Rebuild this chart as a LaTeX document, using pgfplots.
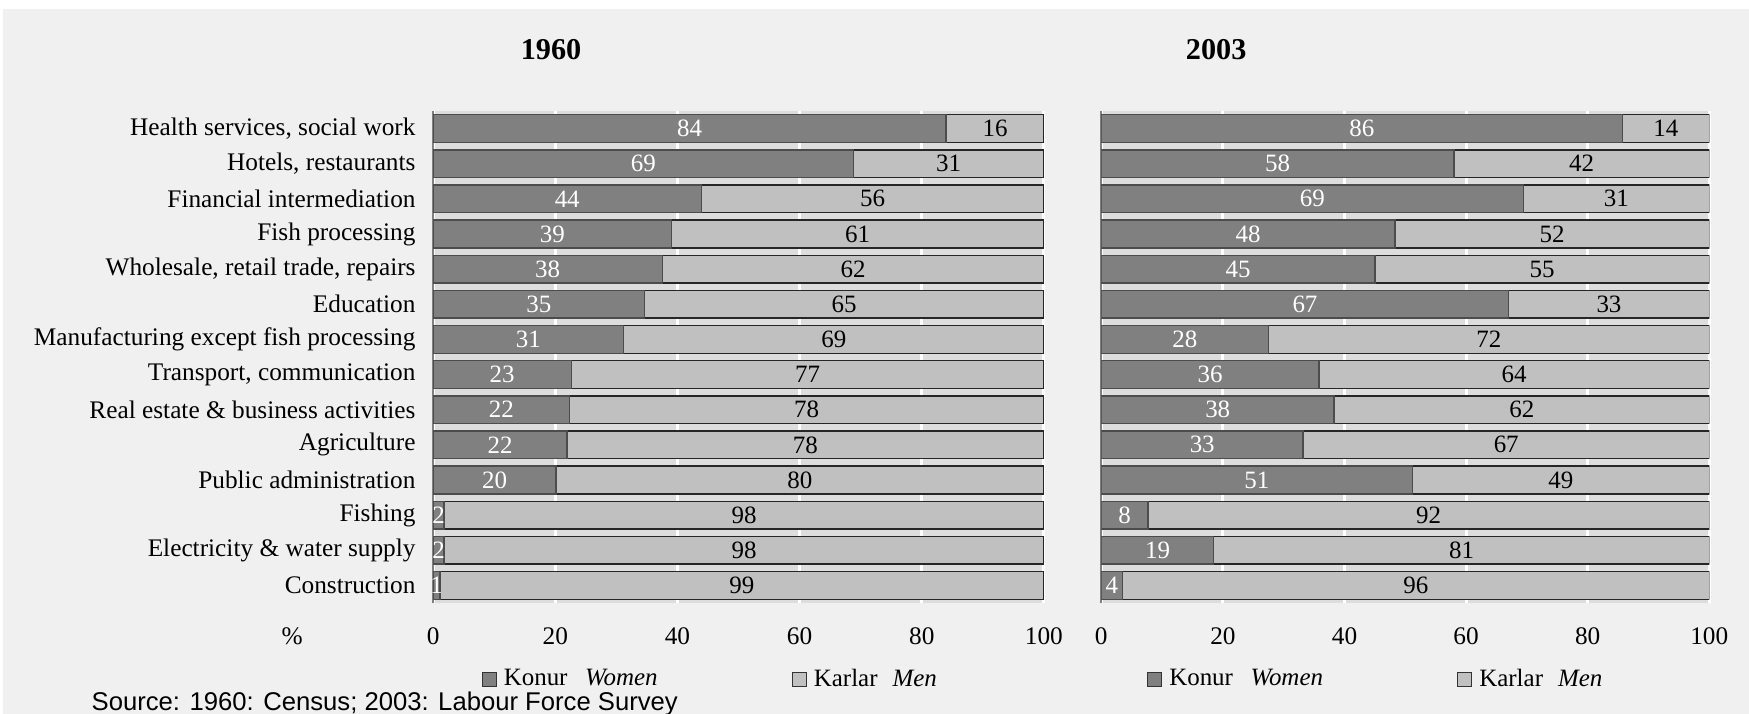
\documentclass[border=0pt]{standalone}
\usepackage{pgfplots}
\usepackage{pgfplotstable}
\pgfplotsset{compat=1.18}
\usepackage{fontspec}
\setmainfont{Liberation Serif}
\newfontfamily\srcfont{Liberation Sans}
\definecolor{bg}{HTML}{F0F0F0}
\definecolor{plotbg}{HTML}{DDDDDD}
\definecolor{dk}{HTML}{808080}
\definecolor{lt}{HTML}{C0C0C0}

% y: row (13 = top); w: women bar; full: 100; wl/ml: printed labels; wc/mc: label positions
\pgfplotstableread{
y w full wl ml wc mc
13 84.0 100 84 16 42.0 92.0
12 68.8 100 69 31 34.4 84.4
11 43.9 100 44 56 21.95 71.95
10 39.0 100 39 61 19.5 69.5
9 37.5 100 38 62 18.75 68.75
8 34.6 100 35 65 17.3 67.3
7 31.2 100 31 69 15.6 65.6
6 22.6 100 23 77 11.3 61.3
5 22.3 100 22 78 11.15 61.15
4 21.9 100 22 78 10.95 60.95
3 20.1 100 20 80 10.05 60.05
2 1.8 100 2 98 0.9 50.9
1 1.8 100 2 98 0.9 50.9
0 1.1 100 1 99 0.55 50.55
}\tabA

\pgfplotstableread{
y w full wl ml wc mc
13 85.7 100 86 14 42.85 92.85
12 58.0 100 58 42 29.0 79.0
11 69.4 100 69 31 34.7 84.7
10 48.3 100 48 52 24.15 74.15
9 45.0 100 45 55 22.5 72.5
8 67.0 100 67 33 33.5 83.5
7 27.5 100 28 72 13.75 63.75
6 35.8 100 36 64 17.9 67.9
5 38.3 100 38 62 19.15 69.15
4 33.2 100 33 67 16.6 66.6
3 51.2 100 51 49 25.6 75.6
2 7.7 100 8 92 3.85 53.85
1 18.5 100 19 81 9.25 59.25
0 3.5 100 4 96 1.75 51.75
}\tabB

\pgfplotsset{
  panel/.style={
    scale only axis,
    height=4.92cm,
    xmin=0, xmax=100,
    ymin=-0.5, ymax=13.5,
    xtick={0,20,40,60,80,100},
    xmajorgrids,
    grid style={white, line width=0.9pt},
    axis background/.style={fill=plotbg},
    axis x line*=bottom,
    axis y line*=left,
    x axis line style={draw=none},
    y axis line style={draw=gray, line width=0.5pt},
    major tick length=0pt,
    /pgf/number format/assume math mode=true,
    tick label style={font=\fontsize{7.2}{8}\selectfont},
    xticklabel style={yshift=-3.4pt},
    title style={font=\fontsize{8.6}{10}\selectfont\bfseries},
    legend style={draw=none, fill=none, legend columns=2, inner sep=0pt,
      font=\fontsize{7.1}{8}\selectfont,
      /tikz/every even column/.append style={column sep=1.27cm}},
    legend image code/.code={\draw[#1, draw=black!80, line width=0.35pt] (0cm,-0.065cm) rectangle (0.14cm,0.075cm);},
  },
  menbar/.style={xbar, bar width=0.79, bar shift=0pt, fill=lt, draw=black!85, line width=0.4pt, forget plot},
  womenbar/.style={xbar, bar width=0.79, bar shift=0pt, fill=dk, draw=black!70, line width=0.4pt, forget plot},
  lab/.style={draw=none, mark=none, forget plot, nodes near coords, point meta=explicit symbolic,
    every node near coord/.append style={anchor=center, font=\fontsize{7.1}{8}\selectfont, #1}},
}

\begin{document}
\begin{tikzpicture}
\fill[white] (0,0) rectangle (17.49,7.14);
\fill[bg] (0.03,0) rectangle (17.49,7.05);

\begin{axis}[panel,
  at={(4.332cm,1.11cm)}, anchor=south west,
  width=6.107cm,
  ytick={0,...,13},
  yticklabels={Construction, Electricity \& water supply, Fishing, Public administration, Agriculture, Real estate \& business activities, {Transport, communication}, Manufacturing except fish processing, Education, {Wholesale, retail trade, repairs}, Fish processing, Financial intermediation, {Hotels, restaurants}, {Health services, social work}},
  yticklabel style={xshift=-1.5pt},
  title={1960},
  title style={at={(0.193,1.081)}, anchor=center},
  xlabel={\%},
  xlabel style={at={(-0.231,-0.068)}, anchor=center, font=\fontsize{7.2}{8}\selectfont},
  legend style={at={(0.078,-0.157)}, anchor=west},
]
\addlegendimage{fill=dk}
\addlegendentry{Konur\hspace{0.7em}\textit{Women}}
\addlegendimage{fill=lt}
\addlegendentry{Karlar\hspace{0.6em}\textit{Men}}
\addplot[menbar] table[x=full, y=y] {\tabA};
\addplot[womenbar] table[x=w, y=y] {\tabA};
\addplot[lab={text=white}] table[x=wc, y=y, meta=wl] {\tabA};
\addplot[lab={text=black}] table[x=mc, y=y, meta=ml] {\tabA};
\end{axis}

\begin{axis}[panel,
  at={(11.013cm,1.11cm)}, anchor=south west,
  width=6.08cm,
  ytick=\empty,
  title={2003},
  title style={at={(0.189,1.081)}, anchor=center},
  legend style={at={(0.074,-0.157)}, anchor=west},
]
\addlegendimage{fill=dk}
\addlegendentry{Konur\hspace{0.7em}\textit{Women}}
\addlegendimage{fill=lt}
\addlegendentry{Karlar\hspace{0.6em}\textit{Men}}
\addplot[menbar] table[x=full, y=y] {\tabB};
\addplot[womenbar] table[x=w, y=y] {\tabB};
\addplot[lab={text=white}] table[x=wc, y=y, meta=wl] {\tabB};
\addplot[lab={text=black}] table[x=mc, y=y, meta=ml] {\tabB};
\end{axis}

\node[anchor=west, inner sep=0pt, font=\srcfont\fontsize{7.3}{8}\selectfont] at (0.91,0.10) {Source: 1960: Census; 2003: Labour Force Survey};
\pgfresetboundingbox
\useasboundingbox (0,0) rectangle (17.49,7.14);
\end{tikzpicture}
\end{document}
